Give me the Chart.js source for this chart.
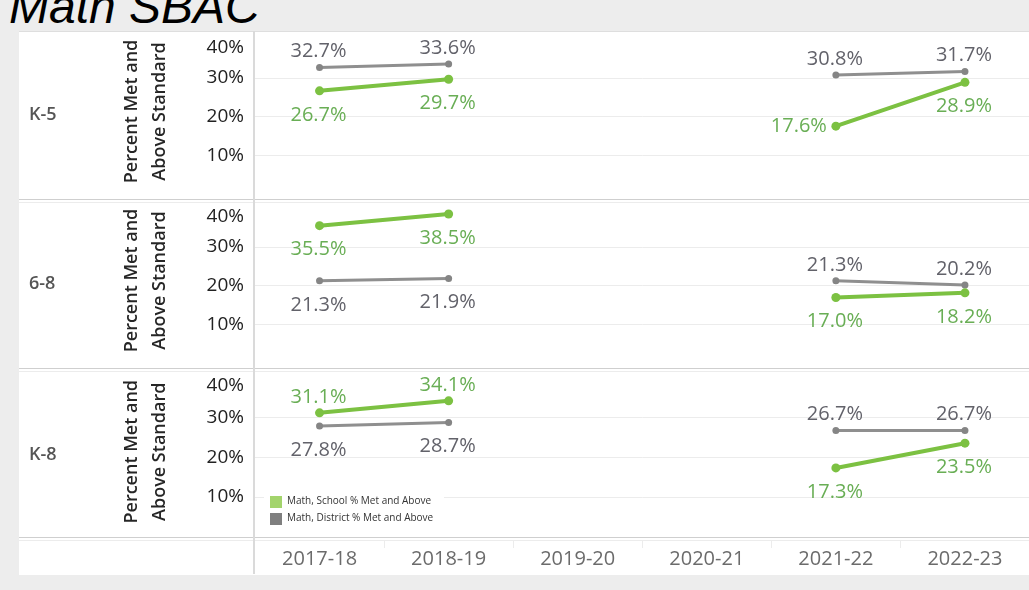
<!DOCTYPE html>
<html>
<head>
<meta charset="utf-8">
<title>Math SBAC</title>
<script src="https://cdn.jsdelivr.net/npm/chart.js@4/dist/chart.umd.min.js"></script>
<style>
  body { margin: 0; width: 1029px; height: 590px; overflow: hidden; position: relative; background: #ededed; font-family: "Open Sans", sans-serif; }
  #title { position: absolute; left: 9px; top: -17px; font: italic 48px/48px "Liberation Sans", Arial, sans-serif; color: #000; white-space: nowrap; }
  #sheet { position: absolute; left: 19px; top: 31px; width: 1010px; height: 544px; background: #fff; border-top: 1px solid #dedede; box-sizing: border-box; }
  .hline { position: absolute; left: 19px; width: 1010px; height: 1px; background: #cfcfcf; }
  .hline.faint { background: #ececec; }
  #vline { position: absolute; left: 253px; top: 31px; width: 2px; height: 543px; background: #dadada; }
  canvas { position: absolute; left: 19px; }
  #legend { position: absolute; left: 264px; top: 494px; width: 180px; height: 36px; background: #fff; font: 10px "Open Sans", sans-serif; color: #333; }
  #legend div { height: 17px; line-height: 13px; white-space: nowrap; }
  #legend span { display: inline-block; width: 12px; height: 12px; margin: 2px 5px 0 6px; vertical-align: top; }
</style>
</head>
<body>
<div id="title">Math SBAC</div>
<div id="sheet"></div>
<canvas id="row0" width="1015" height="167" style="top:32px"></canvas>
<canvas id="row1" width="1015" height="167" style="top:201px"></canvas>
<canvas id="row2" width="1015" height="205" style="top:370px"></canvas>
<div class="hline" style="top:199px"></div>
<div class="hline faint" style="top:202px"></div>
<div class="hline" style="top:368px"></div>
<div class="hline faint" style="top:371px"></div>
<div class="hline" style="top:537px"></div>
<div class="hline faint" style="top:540px"></div>
<div id="vline"></div>
<div id="legend"></div>
<script>
// categories
var years = ['2017-18', '2018-19', '2019-20', '2020-21', '2021-22', '2022-23'];
var grades = ['K-5', '6-8', 'K-8'];
var seriesNames = ['Math, School % Met and Above', 'Math, District % Met and Above'];
var yTicks = [10, 20, 30, 40];
var yTitle = ['Percent Met and', 'Above Standard'];

// values (% met and above), no test in 2019-20 / 2020-21
var k5School = [26.7, 29.7, null, null, 17.6, 28.9];
var k5District = [32.7, 33.6, null, null, 30.8, 31.7];
var g68School = [35.5, 38.5, null, null, 17.0, 18.2];
var g68District = [21.3, 21.9, null, null, 21.3, 20.2];
var k8School = [31.1, 34.1, null, null, 17.3, 23.5];
var k8District = [27.8, 28.7, null, null, 26.7, 26.7];

// where each data label sits relative to its point
var k5SchoolPos = ['below', 'below', '', '', 'left', 'below'];
var k5DistrictPos = ['above', 'above', '', '', 'above', 'above'];
var g68SchoolPos = ['below', 'below', '', '', 'below', 'below'];
var g68DistrictPos = ['below', 'below', '', '', 'above', 'above'];
var k8SchoolPos = ['above', 'above', '', '', 'below', 'below'];
var k8DistrictPos = ['below', 'below', '', '', 'above', 'above'];

var green = '#7cc142', greenText = '#69ae55';
var gray = '#8f8f8f', grayText = '#62626a';

var panelText = {
    id: 'panelText',
    afterDraw: function(chart) {
        var o = chart.options.plugins.panelText;
        var ctx = chart.ctx, area = chart.chartArea;
        var ys = chart.scales.y, xs = chart.scales.x;
        var mid = (area.top + area.bottom) / 2;
        ctx.save();

        // y tick labels, top one pushed inside the panel
        ctx.font = '19px "Open Sans"';
        ctx.fillStyle = '#222';
        ctx.textAlign = 'right';
        ctx.textBaseline = 'middle';
        yTicks.forEach(function(t) {
            var py = Math.max(ys.getPixelForValue(t), area.top + 11);
            ctx.fillText(t + '%', area.left - 11, py);
        });

        // row header
        ctx.font = '600 18px "Open Sans"';
        ctx.fillStyle = '#555';
        ctx.textAlign = 'left';
        ctx.fillText(o.grade, 10, mid - 1);

        // axis title, two rotated lines
        ctx.font = '600 18px "Open Sans"';
        ctx.fillStyle = '#262626';
        ctx.textAlign = 'center';
        [113, 141].forEach(function(px, i) {
            ctx.save();
            ctx.translate(px, mid - 4);
            ctx.rotate(-Math.PI / 2);
            ctx.fillText(yTitle[i], 0, 0);
            ctx.restore();
        });

        // data labels
        ctx.font = '20px "Open Sans"';
        chart.data.datasets.forEach(function(ds, di) {
            var meta = chart.getDatasetMeta(di);
            ctx.fillStyle = ds.labelColor;
            meta.data.forEach(function(pt, i) {
                var v = ds.data[i];
                if (v === null) return;
                var pos = ds.labelPos[i];
                var txt = v.toFixed(1) + '%';
                if (pos === 'left') {
                    ctx.textAlign = 'right';
                    ctx.fillText(txt, pt.x - 9, pt.y);
                } else {
                    ctx.textAlign = 'center';
                    ctx.fillText(txt, pt.x - 1, pos === 'above' ? pt.y - 16 : pt.y + 24);
                }
            });
        });

        // x axis labels under the last row
        if (o.showYears) {
            ctx.font = '20px "Open Sans"';
            ctx.fillStyle = '#6b6b6b';
            ctx.textAlign = 'center';
            years.forEach(function(y, i) {
                ctx.fillText(y, xs.getPixelForValue(i), area.bottom + 22);
            });
            ctx.strokeStyle = '#ececec';
            ctx.lineWidth = 1;
            for (var i = 0; i < years.length - 1; i++) {
                var bx = Math.round((xs.getPixelForValue(i) + xs.getPixelForValue(i + 1)) / 2) + 0.5;
                ctx.beginPath();
                ctx.moveTo(bx, area.bottom + 4);
                ctx.lineTo(bx, area.bottom + 11);
                ctx.stroke();
            }
        }
        ctx.restore();
    }
};

function renderRow(id, grade, school, district, schoolPos, districtPos, showYears) {
    new Chart(document.getElementById(id), {
        type: 'line',
        data: {
            labels: years,
            datasets: [{
                label: seriesNames[0],
                data: school,
                labelPos: schoolPos,
                labelColor: greenText,
                borderColor: green,
                backgroundColor: green,
                borderWidth: 4,
                pointRadius: 4.5,
                pointBorderWidth: 0,
                pointBackgroundColor: green
            }, {
                label: seriesNames[1],
                data: district,
                labelPos: districtPos,
                labelColor: grayText,
                borderColor: gray,
                backgroundColor: gray,
                borderWidth: 3,
                pointRadius: 3.5,
                pointBorderWidth: 0,
                pointBackgroundColor: '#858585'
            }]
        },
        options: {
            responsive: false,
            animation: false,
            devicePixelRatio: 1,
            spanGaps: false,
            layout: { padding: { left: 236, right: 0, top: 0, bottom: showYears ? 38 : 0 } },
            plugins: {
                legend: { display: false },
                tooltip: { enabled: false },
                panelText: { grade: grade, showYears: showYears }
            },
            scales: {
                x: { display: false, offset: true },
                y: {
                    min: 0,
                    max: 40.7,
                    ticks: { display: false, stepSize: 10 },
                    border: { display: false },
                    grid: {
                        drawTicks: false,
                        color: function(c) {
                            return [10, 20, 30].indexOf(c.tick.value) >= 0 ? '#ececec' : 'rgba(0,0,0,0)';
                        }
                    },
                    afterFit: function(s) { s.width = 0; }
                }
            }
        },
        plugins: [panelText]
    });
}

renderRow('row0', grades[0], k5School, k5District, k5SchoolPos, k5DistrictPos, false);
renderRow('row1', grades[1], g68School, g68District, g68SchoolPos, g68DistrictPos, false);
renderRow('row2', grades[2], k8School, k8District, k8SchoolPos, k8DistrictPos, true);

// legend
var legendColors = ['#a3d46c', '#7f7f7f'];
document.getElementById('legend').innerHTML = seriesNames.map(function(n, i) {
    return '<div><span style="background:' + legendColors[i] + '"></span>' + n + '</div>';
}).join('');
</script>
</body>
</html>
